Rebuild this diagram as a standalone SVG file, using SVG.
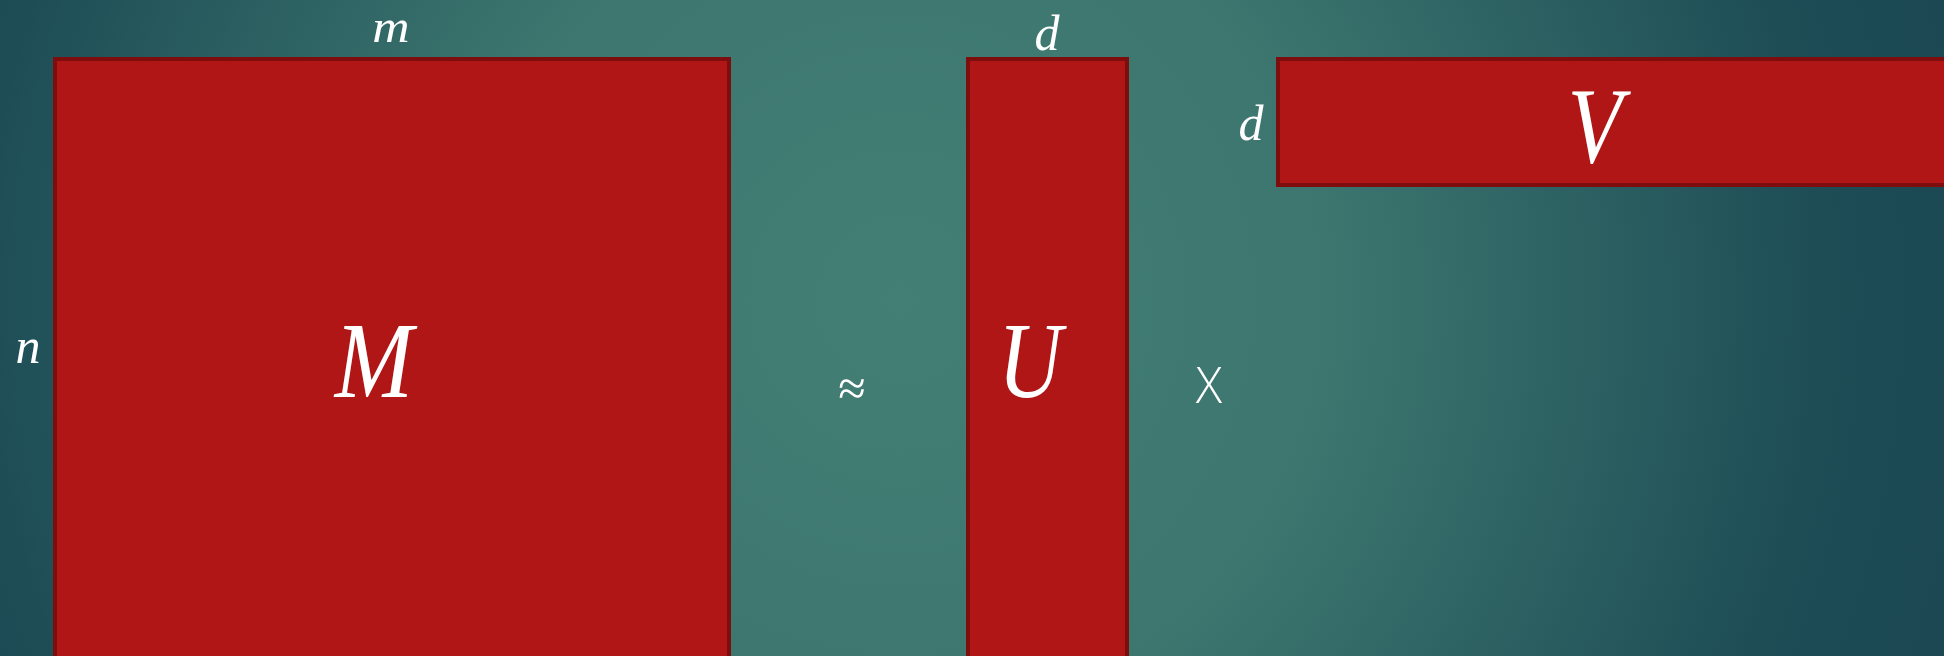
<svg xmlns="http://www.w3.org/2000/svg" width="1944" height="656" viewBox="0 0 1944 656">
<defs>
<radialGradient id="bg" cx="900" cy="300" r="1080" gradientUnits="userSpaceOnUse">
<stop offset="0" stop-color="#447F75"/>
<stop offset="0.4" stop-color="#3C766F"/>
<stop offset="0.85" stop-color="#1E4D56"/>
<stop offset="1" stop-color="#1B4852"/>
</radialGradient>
<style>
.mat{fill:#B01615;stroke:#7E0E0E;stroke-width:4}
.big{font-family:"Liberation Serif",serif;font-style:italic;font-size:108px;fill:#FFFFFF;text-anchor:middle}
.lbl{font-family:"Liberation Serif",serif;font-style:italic;font-size:50px;fill:#FFFFFF;text-anchor:middle}
.op{font-family:"Liberation Serif",serif;font-size:50px;fill:#FFFFFF;text-anchor:middle}
.x{font-family:"Open Sans",sans-serif;font-weight:300;font-size:49px;fill:#FFFFFF;text-anchor:middle}
</style>
</defs>
<rect x="0" y="0" width="1944" height="656" fill="url(#bg)"/>
<g id="M">
<rect class="mat" x="55" y="59" width="674" height="599"/>
<text class="big" transform="translate(374 397) scale(0.87 1)">M</text>
<text class="lbl" transform="translate(391 42) scale(1.1 1)" style="font-size:47px">m</text>
<text class="lbl" x="28" y="363">n</text>
</g>
<g id="approx">
<text class="op" x="852" y="405">≈</text>
</g>
<g id="U">
<rect class="mat" x="968" y="59" width="159" height="599"/>
<text class="big" transform="translate(1030 397) scale(0.82 1)">U</text>
<text class="lbl" x="1047" y="50">d</text>
</g>
<g id="times">
<text class="x" x="1209" y="403">X</text>
</g>
<g id="V">
<rect class="mat" x="1278" y="59" width="670" height="126"/>
<text class="big" transform="translate(1595 162) scale(0.83 1)">V</text>
<text class="lbl" x="1251" y="140">d</text>
</g>
<g id="connectors"/>
</svg>
